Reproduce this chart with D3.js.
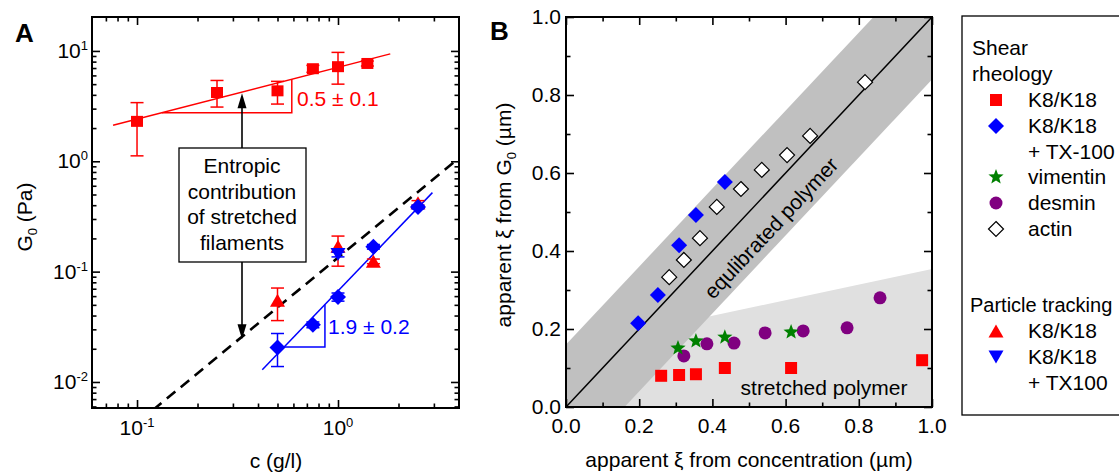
<!DOCTYPE html>
<html><head><meta charset="utf-8">
<script src="https://cdn.jsdelivr.net/npm/d3@7"></script>
<style>
body{margin:0;background:#fff;overflow:hidden}
text{font-family:"Liberation Sans",Arial,sans-serif;}
</style>
</head><body>
<svg id="c" width="1119" height="473"></svg>
<script>
// ---------- Panel A data ----------
const redSqC  = [0.1, 0.25, 0.5, 0.75, 1.0, 1.4];
const redSqG  = [2.3, 4.2, 4.35, 6.9, 7.2, 7.7];
const redSqLo = [1.12, 3.1, 3.3, 6.4, 5.0, 7.3];
const redSqHi = [3.4, 5.4, 5.3, 7.4, 9.7, 8.1];

const blueDiaC  = [0.5, 0.75, 1.0, 1.5, 2.5];
const blueDiaG  = [0.0205, 0.033, 0.059, 0.168, 0.385];
const blueDiaLo = [0.0138, 0.031, 0.054, 0.160, 0.370];
const blueDiaHi = [0.0275, 0.035, 0.064, 0.176, 0.400];

const redTriC  = [0.5, 1.0, 1.5, 2.5];
const redTriG  = [0.055, 0.17, 0.124, 0.42];
const redTriLo = [0.036, 0.112, 0.118, 0.40];
const redTriHi = [0.071, 0.21, 0.130, 0.44];

const blueTriC  = [1.0];
const blueTriG  = [0.143];
const blueTriLo = [0.136];
const blueTriHi = [0.150];

const redFitC = [0.076, 1.82],  redFitG = [2.12, 9.4];
const blueFitC = [0.42, 2.95],  blueFitG = [0.0129, 0.52];
const dashC = [0.12, 3.9],      dashG = [0.00557, 1.03];
const redSlopeC = [0.133, 0.589];
const blueSlopeC = [0.539, 0.861];
const redSlopeLabel = "0.5 \u00b1 0.1";
const blueSlopeLabel = "1.9 \u00b1 0.2";
const annotLines = ["Entropic", "contribution", "of stretched", "filaments"];

const xMajorA = [0.1, 1], xExpA = ["-1", "0"];
const yMajorA = [0.01, 0.1, 1, 10], yExpA = ["-2", "-1", "0", "1"];

// ---------- Panel B data ----------
const actinX = [0.282, 0.322, 0.366, 0.412, 0.478, 0.535, 0.604, 0.667, 0.817];
const actinY = [0.333, 0.377, 0.433, 0.513, 0.559, 0.608, 0.646, 0.695, 0.833];
const txX = [0.197, 0.251, 0.309, 0.355, 0.434];
const txY = [0.215, 0.287, 0.415, 0.492, 0.577];
const vimX = [0.306, 0.355, 0.434, 0.615];
const vimY = [0.151, 0.169, 0.179, 0.192];
const desX = [0.322, 0.385, 0.459, 0.544, 0.648, 0.768, 0.858];
const desY = [0.131, 0.162, 0.164, 0.190, 0.195, 0.203, 0.280];
const k8X = [0.260, 0.309, 0.355, 0.434, 0.615, 0.973];
const k8Y = [0.080, 0.082, 0.084, 0.100, 0.100, 0.120];
const bandHalf = 0.16;
const stretchedEdge = [[0, 0.154], [1, 0.354]];
const xTicksB = [0, 0.2, 0.4, 0.6, 0.8, 1.0];
const minorB = [0.1, 0.3, 0.5, 0.7, 0.9];

const legendItems = [
  {lab:"K8/K18", sym:"square"}, {lab:"K8/K18", sym:"diamond"}, {lab:"+ TX-100", sym:null},
  {lab:"vimentin", sym:"star"}, {lab:"desmin", sym:"circle"}, {lab:"actin", sym:"open"}];
const legendItems2 = [{lab:"K8/K18", sym:"triUp"}, {lab:"K8/K18", sym:"triDown"}, {lab:"+ TX100", sym:null}];

// ---------- helpers ----------
const FS = 21;
const RED="#ff0000", BLUE="#0000ff", GREEN="#008000", PURPLE="#800080";
const svg = d3.select("#c");
const sq = (w,h)=>`M${-w/2},${-h/2}H${w/2}V${h/2}H${-w/2}Z`;
const dia = (rx,ry)=>`M0,${-ry}L${rx},0L0,${ry}L${-rx},0Z`;
const triU = (w,h)=>`M0,${-h/2}L${w/2},${h/2}L${-w/2},${h/2}Z`;
const triD = (w,h)=>`M0,${h/2}L${w/2},${-h/2}L${-w/2},${-h/2}Z`;
function star(ro, ri){ let p=[]; for(let i=0;i<10;i++){const r=i%2?ri:ro; const a=-Math.PI/2+i*Math.PI/5; p.push([r*Math.cos(a), r*Math.sin(a)]);} return "M"+p.map(d=>d.join(",")).join("L")+"Z"; }
const circ = r=>`M${r},0A${r},${r} 0 1,1 ${-r},0A${r},${r} 0 1,1 ${r},0Z`;
function symPath(s){
  switch(s){
    case "square": return sq(12,12);
    case "diamond": return dia(8,8);
    case "open": return dia(7.5,7.5);
    case "star": return star(8,3.4);
    case "circle": return circ(6.5);
    case "triUp": return triU(15,13);
    case "triDown": return triD(15,13);
  }
}
function symStyle(sel, s){
  const m = {square:RED, diamond:BLUE, star:GREEN, circle:PURPLE, triUp:RED, triDown:BLUE};
  if(s==="open") sel.attr("fill","#fff").attr("stroke","#000").attr("stroke-width",1.2);
  else sel.attr("fill", m[s]);
}

// ---------- Panel A ----------
const xA = d3.scaleLog().domain([0.0597, 4.0]).range([92, 459]);
const yA = d3.scaleLog().domain([0.00581, 20.3]).range([408, 17]);
const gA = svg.append("g");
gA.append("defs").append("clipPath").attr("id","clipA").append("rect")
  .attr("x",92).attr("y",17).attr("width",367).attr("height",391);

const minorAx = [];
[0.01,0.1,1].forEach(d=>{for(let m=2;m<=9;m++){const v=d*m; if(v>0.0597*1.02 && v<4.0*0.98) minorAx.push(v);}});
const minorAy = [];
[0.001,0.01,0.1,1,10].forEach(d=>{for(let m=2;m<=9;m++){const v=d*m; if(v>0.00581*1.03 && v<20.3*0.96) minorAy.push(v);}});

function axesLog(g, x, y, xMaj, xMin, yMaj, yMin, x0,x1,y0,y1){
  g.append("g").attr("transform",`translate(0,${y1})`).call(d3.axisBottom(x).tickValues(xMaj).tickSize(-8).tickFormat(""));
  g.append("g").attr("transform",`translate(0,${y1})`).call(d3.axisBottom(x).tickValues(xMin).tickSize(-4.5).tickFormat(""));
  g.append("g").attr("transform",`translate(0,${y0})`).call(d3.axisTop(x).tickValues(xMaj).tickSize(-8).tickFormat(""));
  g.append("g").attr("transform",`translate(0,${y0})`).call(d3.axisTop(x).tickValues(xMin).tickSize(-4.5).tickFormat(""));
  g.append("g").attr("transform",`translate(${x0},0)`).call(d3.axisLeft(y).tickValues(yMaj).tickSize(-8).tickFormat(""));
  g.append("g").attr("transform",`translate(${x0},0)`).call(d3.axisLeft(y).tickValues(yMin).tickSize(-4.5).tickFormat(""));
  g.append("g").attr("transform",`translate(${x1},0)`).call(d3.axisRight(y).tickValues(yMaj).tickSize(-8).tickFormat(""));
  g.append("g").attr("transform",`translate(${x1},0)`).call(d3.axisRight(y).tickValues(yMin).tickSize(-4.5).tickFormat(""));
  g.selectAll(".domain").remove();
  g.selectAll(".tick line").attr("stroke","#000").attr("stroke-width",1.6);
  g.append("rect").attr("x",x0).attr("y",y0).attr("width",x1-x0).attr("height",y1-y0)
    .attr("fill","none").attr("stroke","#000").attr("stroke-width",2);
}

const lgLine = (cs, gs)=>d3.line().x(d=>xA(d[0])).y(d=>yA(d[1]))(cs.map((c,i)=>[c,gs[i]]));
const plotA = gA.append("g").attr("clip-path","url(#clipA)");
plotA.append("path").attr("d",lgLine(dashC,dashG)).attr("fill","none").attr("stroke","#000")
  .attr("stroke-width",2.6).attr("stroke-dasharray","11,7");
plotA.append("path").attr("d",lgLine(redFitC,redFitG)).attr("fill","none").attr("stroke",RED).attr("stroke-width",1.5);
plotA.append("path").attr("d",lgLine(blueFitC,blueFitG)).attr("fill","none").attr("stroke",BLUE).attr("stroke-width",1.5);

function onFit(c, fc, fg){
  const t = (Math.log(c)-Math.log(fc[0]))/(Math.log(fc[1])-Math.log(fc[0]));
  return Math.exp(Math.log(fg[0]) + t*(Math.log(fg[1])-Math.log(fg[0])));
}
function slopeTri(sc, fc, fg, col){
  const g0 = onFit(sc[0], fc, fg), g1 = onFit(sc[1], fc, fg);
  const pts = [[sc[0],g0],[sc[1],g0],[sc[1],g1]];
  plotA.append("path").attr("d", d3.line().x(d=>xA(d[0])).y(d=>yA(d[1]))(pts))
    .attr("fill","none").attr("stroke",col).attr("stroke-width",1.5);
}
slopeTri(redSlopeC, redFitC, redFitG, RED);
slopeTri(blueSlopeC, blueFitC, blueFitG, BLUE);

const annotX = 242;
gA.append("rect").attr("x",179).attr("y",148).attr("width",127).attr("height",114)
  .attr("fill","#fff").attr("stroke","#000").attr("stroke-width",1.3);
gA.selectAll("text.ann").data(annotLines).join("text").attr("class","ann")
  .attr("x",annotX).attr("y",(d,i)=>173+i*25.7).attr("text-anchor","middle")
  .attr("font-size",FS).text(d=>d);
function arrow(x, yFrom, yTo){
  const dir = yTo>yFrom?1:-1;
  gA.append("line").attr("x1",x).attr("x2",x).attr("y1",yFrom).attr("y2",yTo-dir*12)
    .attr("stroke","#000").attr("stroke-width",1.6);
  gA.append("path").attr("d",`M${x},${yTo}L${x-4.5},${yTo-dir*15}L${x+4.5},${yTo-dir*15}Z`).attr("fill","#000");
}
arrow(annotX, 148, yA(onFit(0.33, redFitC, redFitG))+1);
arrow(annotX, 262, yA(onFit(0.33, dashC, dashG))+2);

function series(cs, gs, lo, hi, col, path){
  const g = plotA.append("g");
  cs.forEach((c,i)=>{
    if(lo){
      g.append("line").attr("x1",xA(c)).attr("x2",xA(c)).attr("y1",yA(lo[i])).attr("y2",yA(hi[i])).attr("stroke",col).attr("stroke-width",1.5);
      [lo[i],hi[i]].forEach(v=>g.append("line").attr("x1",xA(c)-6.5).attr("x2",xA(c)+6.5).attr("y1",yA(v)).attr("y2",yA(v)).attr("stroke",col).attr("stroke-width",1.5));
    }
  });
  g.selectAll("path.m").data(cs).join("path").attr("class","m")
    .attr("transform",(c,i)=>`translate(${xA(c)},${yA(gs[i])})`).attr("d",path).attr("fill",col);
}
series(redSqC, redSqG, redSqLo, redSqHi, RED, sq(12,11));
series(redTriC, redTriG, redTriLo, redTriHi, RED, triU(15,13));
series(blueDiaC, blueDiaG, blueDiaLo, blueDiaHi, BLUE, dia(8,8));
series(blueTriC, blueTriG, blueTriLo, blueTriHi, BLUE, triD(15,13));

gA.append("text").attr("x",297).attr("y",106).attr("font-size",FS).attr("fill",RED).text(redSlopeLabel);
gA.append("text").attr("x",328).attr("y",334).attr("font-size",FS).attr("fill",BLUE).text(blueSlopeLabel);

axesLog(gA, xA, yA, xMajorA, minorAx, yMajorA, minorAy, 92, 459, 17, 408);

xMajorA.forEach((v,i)=>{
  const t = gA.append("text").attr("x",xA(v)).attr("y",435).attr("text-anchor","middle").attr("font-size",FS);
  t.append("tspan").text("10");
  t.append("tspan").attr("dy",-8).attr("font-size",13).text(xExpA[i]);
});
yMajorA.forEach((v,i)=>{
  const t = gA.append("text").attr("x",88).attr("y",yA(v)+7).attr("text-anchor","end").attr("font-size",FS);
  t.append("tspan").text("10");
  t.append("tspan").attr("dy",-8).attr("font-size",13).text(yExpA[i]);
});
gA.append("text").attr("x",276).attr("y",468).attr("text-anchor","middle").attr("font-size",FS).text("c (g/l)");
{
  const t = gA.append("text").attr("transform","translate(32,217) rotate(-90)").attr("text-anchor","middle").attr("font-size",FS);
  t.append("tspan").text("G");
  t.append("tspan").attr("dy",5).attr("font-size",13).text("0");
  t.append("tspan").attr("dy",-5).text(" (Pa)");
}
gA.append("text").attr("x",15).attr("y",42).attr("font-size",26).attr("font-weight","bold").text("A");

// ---------- Panel B ----------
const xB = d3.scaleLinear().domain([0,1]).range([566, 932]);
const yB = d3.scaleLinear().domain([0,1]).range([407, 17]);
const gB = svg.append("g");
const ln = d3.line().x(d=>xB(d[0])).y(d=>yB(d[1]));
gB.append("path").attr("d", ln([[0,0],[1,0],stretchedEdge[1],stretchedEdge[0]])+"Z").attr("fill","#e0e0e0");
gB.append("path").attr("d", ln([[0,0],[0,bandHalf],[1-bandHalf,1],[1,1],[1,1-bandHalf],[bandHalf,0]])+"Z").attr("fill","#c0c0c0");
gB.append("path").attr("d", ln([[0,0],[1,1]])).attr("stroke","#000").attr("stroke-width",1.5).attr("fill","none");

{
  const ang = Math.atan2(yB(0)-yB(1), xB(1)-xB(0))*180/Math.PI;
  gB.append("text").attr("transform",`translate(771,228) rotate(${-ang})`).attr("text-anchor","middle")
    .attr("dy","0.35em").attr("font-size",FS).text("equlibrated polymer");
}
gB.append("text").attr("x",824).attr("y",395).attr("text-anchor","middle").attr("font-size",FS).text("stretched polymer");

function ptsB(xs, ys, s){
  const sel = gB.append("g").selectAll("path").data(xs).join("path")
    .attr("transform",(d,i)=>`translate(${xB(d)},${yB(ys[i])})`).attr("d", symPath(s));
  symStyle(sel, s);
}
ptsB(actinX, actinY, "open");
ptsB(txX, txY, "diamond");
ptsB(k8X, k8Y, "square");
ptsB(desX, desY, "circle");
ptsB(vimX, vimY, "star");

{
  const g = gB.append("g");
  const mk = (ax, tr, vals, len)=>g.append("g").attr("transform",tr).call(ax.tickValues(vals).tickSize(-len).tickFormat(""));
  mk(d3.axisBottom(xB), "translate(0,407)", xTicksB, 8);
  mk(d3.axisBottom(xB), "translate(0,407)", minorB, 4.5);
  mk(d3.axisTop(xB), "translate(0,17)", xTicksB, 8);
  mk(d3.axisTop(xB), "translate(0,17)", minorB, 4.5);
  mk(d3.axisLeft(yB), "translate(566,0)", xTicksB, 8);
  mk(d3.axisLeft(yB), "translate(566,0)", minorB, 4.5);
  mk(d3.axisRight(yB), "translate(932,0)", xTicksB, 8);
  mk(d3.axisRight(yB), "translate(932,0)", minorB, 4.5);
  g.selectAll(".domain").remove();
  g.selectAll(".tick line").attr("stroke","#000").attr("stroke-width",1.6);
  g.append("rect").attr("x",566).attr("y",17).attr("width",366).attr("height",390)
    .attr("fill","none").attr("stroke","#000").attr("stroke-width",2);
  xTicksB.forEach(v=>{
    g.append("text").attr("x",xB(v)).attr("y",433).attr("text-anchor","middle").attr("font-size",FS).text(d3.format(".1f")(v));
    g.append("text").attr("x",561).attr("y",yB(v)).attr("dy","0.35em").attr("text-anchor","end").attr("font-size",FS).text(d3.format(".1f")(v));
  });
}
gB.append("text").attr("x",749).attr("y",467).attr("text-anchor","middle").attr("font-size",FS)
  .text("apparent \u03be from concentration (\u00b5m)");
{
  const t = gB.append("text").attr("transform","translate(511,215) rotate(-90)").attr("text-anchor","middle").attr("font-size",FS);
  t.append("tspan").text("apparent \u03be from G");
  t.append("tspan").attr("dy",5).attr("font-size",13).text("0");
  t.append("tspan").attr("dy",-5).text(" (\u00b5m)");
}
gB.append("text").attr("x",490).attr("y",40).attr("font-size",26).attr("font-weight","bold").text("B");

// ---------- Legend ----------
const gL = svg.append("g");
gL.append("rect").attr("x",962).attr("y",16).attr("width",300).attr("height",399)
  .attr("fill","#fff").attr("stroke","#000").attr("stroke-width",1.3);
gL.append("text").attr("x",972).attr("y",55).attr("font-size",FS).text("Shear");
gL.append("text").attr("x",972).attr("y",81).attr("font-size",FS).text("rheology");
const rowY1 = [100, 126, 152, 177, 203, 229];
legendItems.forEach((d,i)=>{
  gL.append("text").attr("x",1028).attr("y",rowY1[i]+7).attr("font-size",FS).text(d.lab);
  if(d.sym){ const p = gL.append("path").attr("transform",`translate(996,${rowY1[i]})`).attr("d",symPath(d.sym)); symStyle(p,d.sym); }
});
gL.append("text").attr("x",970).attr("y",312).attr("font-size",20).text("Particle tracking");
const rowY2 = [331, 357, 383];
legendItems2.forEach((d,i)=>{
  gL.append("text").attr("x",1028).attr("y",rowY2[i]+7).attr("font-size",FS).text(d.lab);
  if(d.sym){ const p = gL.append("path").attr("transform",`translate(996,${rowY2[i]})`).attr("d",symPath(d.sym)); symStyle(p,d.sym); }
});
</script>
</body></html>
